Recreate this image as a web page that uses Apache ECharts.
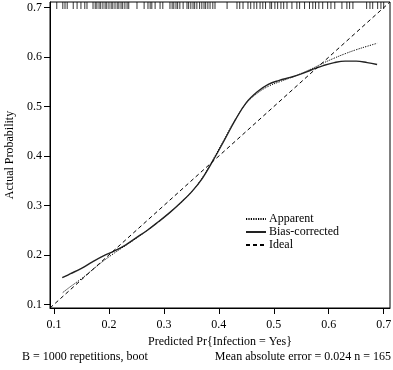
<!DOCTYPE html>
<html>
<head>
<meta charset="utf-8">
<script src="https://cdn.jsdelivr.net/npm/echarts@6/dist/echarts.min.js"></script>
<style>
  html, body { margin: 0; padding: 0; background: #fff; }
  #chart { width: 393px; height: 370px; }
</style>
</head>
<body>
<div id="chart"></div>
<script>
// axis range (R style, 4% padding around the data)
const axisMin = 0.0927
const axisMax = 0.7115
const tickValues = [0.1, 0.2, 0.3, 0.4, 0.5, 0.6, 0.7]

// apparent calibration curve
const apparentX = [0.116, 0.13, 0.15, 0.17, 0.19, 0.21, 0.23, 0.25, 0.27, 0.29, 0.31, 0.33, 0.35, 0.37, 0.39, 0.41, 0.43, 0.45, 0.47, 0.49, 0.51, 0.53, 0.55, 0.57, 0.59, 0.61, 0.63, 0.65, 0.67, 0.688]
const apparentY = [0.124, 0.136, 0.152, 0.170, 0.188, 0.204, 0.219, 0.234, 0.250, 0.267, 0.285, 0.305, 0.327, 0.356, 0.394, 0.434, 0.474, 0.507, 0.527, 0.541, 0.550, 0.558, 0.567, 0.577, 0.588, 0.598, 0.607, 0.615, 0.622, 0.628]

// bias-corrected calibration curve
const biasX = [0.115, 0.13, 0.15, 0.17, 0.19, 0.21, 0.23, 0.25, 0.27, 0.29, 0.31, 0.33, 0.35, 0.37, 0.39, 0.41, 0.43, 0.45, 0.47, 0.49, 0.51, 0.53, 0.55, 0.57, 0.59, 0.61, 0.63, 0.65, 0.67, 0.688]
const biasY = [0.154, 0.162, 0.173, 0.186, 0.198, 0.208, 0.220, 0.235, 0.250, 0.267, 0.285, 0.305, 0.327, 0.355, 0.392, 0.432, 0.473, 0.508, 0.530, 0.545, 0.553, 0.559, 0.566, 0.575, 0.583, 0.589, 0.592, 0.592, 0.589, 0.585]

// ideal line end points
const idealX = [axisMin, axisMax]
const idealY = [axisMin, axisMax]

// rug of predicted probabilities (top of plot)
const rugValues = [0.105, 0.116, 0.120, 0.124, 0.135, 0.142, 0.149, 0.156, 0.160, 0.171, 0.175, 0.178, 0.182, 0.185, 0.189, 0.193, 0.196, 0.200, 0.204, 0.207, 0.211, 0.215, 0.218, 0.222, 0.225, 0.229, 0.233, 0.236, 0.251, 0.264, 0.271, 0.275, 0.278, 0.284, 0.293, 0.298, 0.311, 0.315, 0.318, 0.322, 0.325, 0.329, 0.335, 0.342, 0.345, 0.349, 0.353, 0.356, 0.360, 0.365, 0.369, 0.373, 0.376, 0.380, 0.384, 0.389, 0.393, 0.415, 0.433, 0.438, 0.444, 0.453, 0.458, 0.464, 0.469, 0.475, 0.480, 0.485, 0.493, 0.496, 0.502, 0.507, 0.513, 0.518, 0.524, 0.533, 0.542, 0.547, 0.556, 0.565, 0.571, 0.576, 0.582, 0.589, 0.598, 0.604, 0.611, 0.624, 0.633, 0.638, 0.644, 0.669, 0.675, 0.680, 0.689, 0.695, 0.700]

const footLeft = 'B = 1000 repetitions, boot'
const footRight = 'Mean absolute error = 0.024 n = 165'

const font = '"Liberation Serif", "DejaVu Serif", serif'
const zip = (xs, ys) => xs.map((x, i) => [x, ys[i]])

const chart = echarts.init(document.getElementById('chart'), null, { renderer: 'canvas' })

const axisCommon = {
  type: 'value',
  min: axisMin,
  max: axisMax,
  axisLine: { show: true, lineStyle: { color: '#000', width: 1 } },
  axisTick: { show: true, length: 6, customValues: tickValues, lineStyle: { color: '#000' } },
  axisLabel: { customValues: tickValues, color: '#000', fontFamily: font, fontSize: 12, formatter: v => v.toFixed(1) },
  splitLine: { show: false },
}

chart.setOption({
  animation: false,
  backgroundColor: '#fff',
  textStyle: { fontFamily: font },
  grid: {
    left: 50,
    right: 3,
    top: 2,
    bottom: 62,
    outerBoundsMode: 'none',
    containLabel: false,
    show: true,
    borderColor: '#000',
    borderWidth: 1,
  },
  xAxis: {
    ...axisCommon,
    axisLabel: { ...axisCommon.axisLabel, margin: 11 },
    name: 'Predicted Pr{Infection = Yes}',
    nameLocation: 'middle',
    nameGap: 28,
    nameTextStyle: { color: '#000', fontFamily: font, fontSize: 12 },
  },
  yAxis: {
    ...axisCommon,
    axisLabel: { ...axisCommon.axisLabel, margin: 8 },
    name: 'Actual Probability',
    nameLocation: 'middle',
    nameGap: 34,
    nameTextStyle: { color: '#000', fontFamily: font, fontSize: 12 },
  },
  legend: {
    orient: 'vertical',
    left: 240,
    top: 208,
    itemWidth: 20,
    itemHeight: 8,
    itemGap: 1,
    itemStyle: { opacity: 0 },
    data: ['Apparent', 'Bias-corrected', 'Ideal'],
    textStyle: { color: '#000', fontFamily: font, fontSize: 12, padding: [0, 0, 0, -2] },
  },
  series: [
    {
      name: 'Apparent',
      type: 'line',
      data: zip(apparentX, apparentY),
      smooth: 0.4,
      symbol: 'none',
      color: '#000',
      lineStyle: { color: '#000', width: 1, type: [1.2, 1.2] },
    },
    {
      name: 'Bias-corrected',
      type: 'line',
      data: zip(biasX, biasY),
      smooth: 0.4,
      symbol: 'none',
      color: '#222',
      lineStyle: { color: '#222', width: 1.4, type: 'solid' },
    },
    {
      name: 'Ideal',
      type: 'line',
      data: zip(idealX, idealY),
      symbol: 'none',
      color: '#000',
      lineStyle: { color: '#000', width: 1, type: [4, 3] },
    },
    {
      name: 'rug',
      type: 'scatter',
      data: rugValues.map(v => [v, axisMax]),
      symbol: 'rect',
      symbolSize: [1, 7],
      symbolOffset: [0, 3.5],
      itemStyle: { color: '#000' },
      silent: true,
    },
  ],
  graphic: [
    {
      type: 'text',
      left: 22,
      top: 351,
      style: { text: footLeft, fill: '#000', font: '12px ' + font },
    },
    {
      type: 'text',
      right: 2,
      top: 351,
      style: { text: footRight, fill: '#000', font: '12px ' + font },
    },
  ],
})
</script>
</body>
</html>
